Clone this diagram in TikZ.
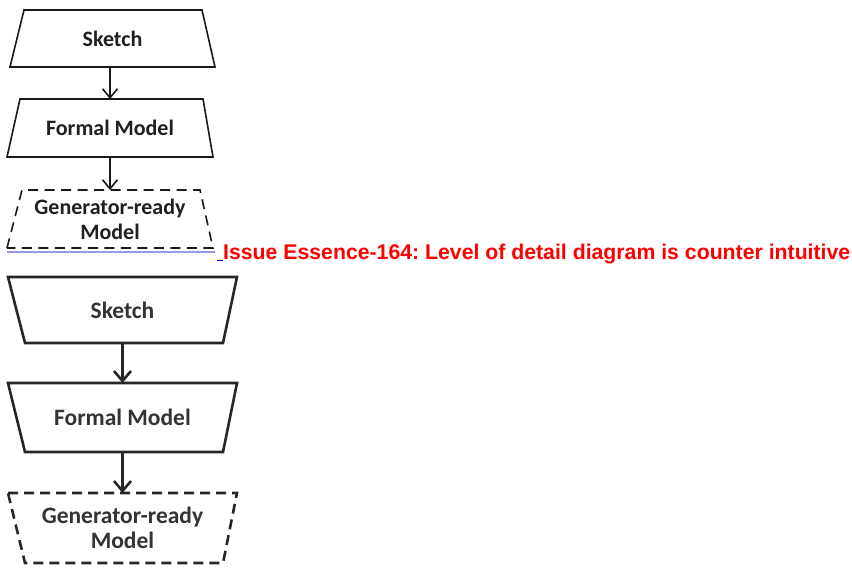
\documentclass[tikz,border=0pt]{standalone}
\usepackage{fontspec}
\setmainfont{Carlito}
\newfontfamily\arialfont{Liberation Sans}
\usetikzlibrary{arrows.meta,calc}
\definecolor{linkline}{HTML}{9A9AEA}
\definecolor{linkblue}{HTML}{0000EE}
\frenchspacing
\begin{document}
\begin{tikzpicture}[x=1pt,y=-1pt,
  boxtop/.style={inner sep=0pt, outer sep=0pt, font=\fontsize{22}{25}\selectfont\bfseries, text=black!88, align=center},
  boxbot/.style={inner sep=0pt, outer sep=0pt, font=\fontsize{23.5}{25}\selectfont\bfseries, text=black!80, align=center},
  linetop/.style={draw=black!90, line width=1.6pt, line join=miter},
  linebot/.style={draw=black!85, line width=2.6pt, line join=miter},
  dashtop/.style={dash pattern=on 10pt off 6.5pt},
  dashbot/.style={dash pattern=on 10pt off 6pt},
  arrtop/.style={linetop, -{Straight Barb[length=9pt,width=15pt]}},
  arrbot/.style={linebot, -{Straight Barb[length=10pt,width=17pt]}},
  redtext/.style={anchor=base west, inner sep=0pt, text=red, font={\fontsize{21.25}{25}\arialfont\bfseries}}
]
\useasboundingbox (0,0) rectangle (852,568);

% ---------- top diagram ----------
\node[boxtop, minimum width=205pt, minimum height=57pt] (s1) at (112.5,38.5) {Sketch};
\node[boxtop, minimum width=206pt, minimum height=58pt] (f1) at (110,128) {Formal Model};
\node[boxtop, minimum width=206pt, minimum height=58pt] (g1) at (110,219) {Generator-ready\\Model};

\draw[linetop] ([xshift=14pt]s1.north west) -- ([xshift=-13pt]s1.north east) -- (s1.south east) -- (s1.south west) -- cycle;
\draw[linetop] ([xshift=13pt]f1.north west) -- ([xshift=-10pt]f1.north east) -- (f1.south east) -- (f1.south west) -- cycle;
\draw[linetop, dashtop] (g1.south west) -- ([xshift=15pt]g1.north west) -- ([xshift=-13pt]g1.north east) -- (g1.south east) -- cycle;

\draw[arrtop] (s1.south -| 110,0) -- (f1.north);
\draw[arrtop] (f1.south) -- (g1.north);

% link underline
\coordinate (l1) at (7,252);
\coordinate (l2) at (215,252);
\draw[linkline, line width=1.8pt] (l1) -- (l2);
\coordinate (u1) at (217,260.5);
\coordinate (u2) at (223,260.5);
\draw[linkblue, line width=1.8pt] (u1) -- (u2);

\node[redtext] (issue) at (223,259) {Issue Essence-164: Level of detail diagram is counter intuitive};

% ---------- bottom diagram ----------
\node[boxbot, minimum width=229pt, minimum height=66pt] (s2) at (122.5,310) {Sketch};
\node[boxbot, minimum width=229pt, minimum height=69pt] (f2) at (122.5,417.5) {Formal Model};
\node[boxbot, minimum width=229pt, minimum height=70pt] (g2) at (122.5,528) {Generator-ready\\Model};

\draw[linebot] (s2.north west) -- (s2.north east) -- ([xshift=-14pt]s2.south east) -- ([xshift=17pt]s2.south west) -- cycle;
\draw[linebot] (f2.north west) -- (f2.north east) -- ([xshift=-14pt]f2.south east) -- ([xshift=17pt]f2.south west) -- cycle;
\draw[linebot, dashbot] (g2.north west) -- (g2.north east) -- ([xshift=-14pt]g2.south east) -- ([xshift=17pt]g2.south west) -- cycle;

\draw[arrbot] (s2.south) -- (f2.north);
\draw[arrbot] (f2.south) -- (g2.north);
\end{tikzpicture}
\end{document}
